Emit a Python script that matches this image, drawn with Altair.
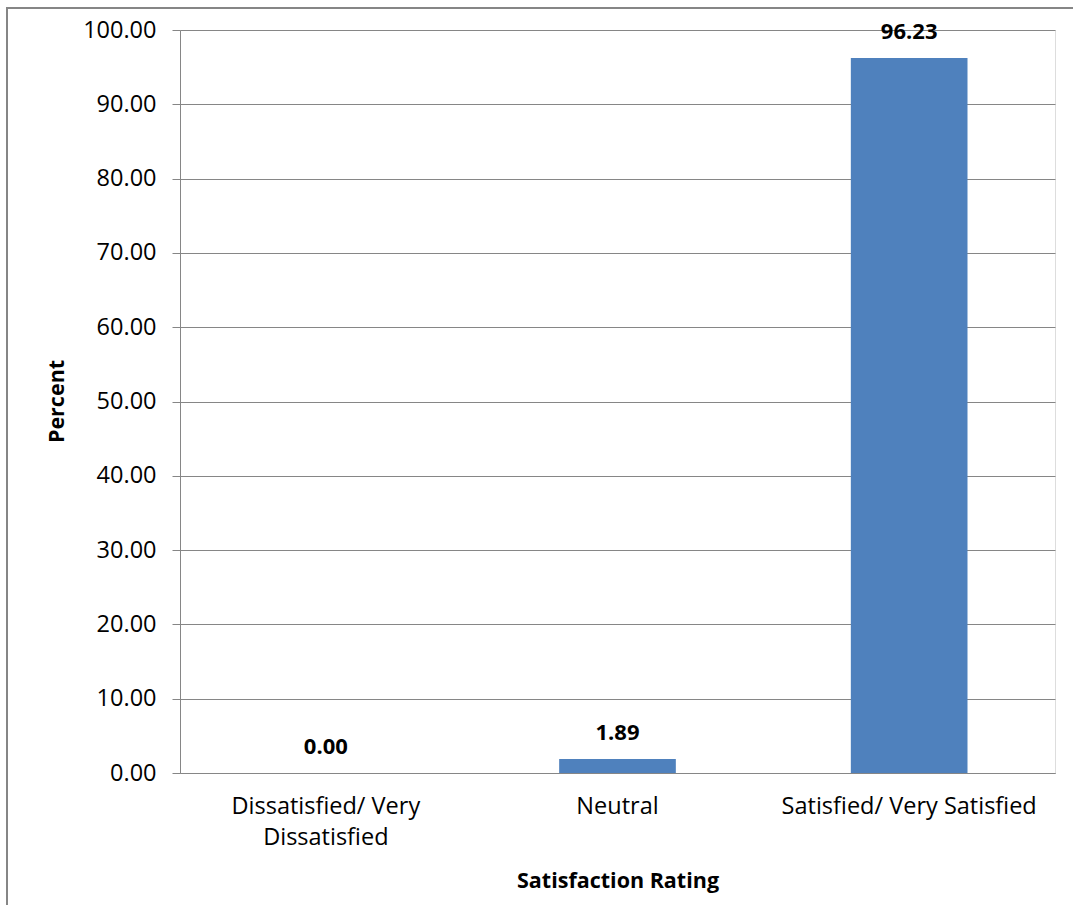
import altair as alt
import pandas as pd

categories = ["Dissatisfied/ Very Dissatisfied", "Neutral", "Satisfied/ Very Satisfied"]
percent = [0.00, 1.89, 96.23]
y_ticks = [0, 10, 20, 30, 40, 50, 60, 70, 80, 90, 100]

df = pd.DataFrame({"cat": categories, "pct": percent})
df["lbl"] = df["pct"].map(lambda v: f"{v:.2f}")

FONT = "Open Sans"
GRAY = "#868686"
FS = 23.5
TFS = 21.5

x_enc = alt.X(
    "cat:N",
    sort=categories,
    title="Satisfaction Rating",
    scale=alt.Scale(paddingInner=0.6, paddingOuter=0.3),
    axis=alt.Axis(
        labelAngle=0,
        labelExpr="datum.label == 'Dissatisfied/ Very Dissatisfied' ? ['Dissatisfied/ Very', 'Dissatisfied'] : datum.label",
        labelFont=FONT,
        labelFontSize=FS,
        labelColor="#000000",
        labelLineHeight=31,
        labelPadding=21,
        labelLimit=400,
        ticks=False,
        domain=True,
        domainColor=GRAY,
        titleFont=FONT,
        titleFontSize=TFS,
        titleFontWeight="bold",
        titleColor="#000000",
        titleY=108,
        titleBaseline="middle",
    ),
)

y_enc = alt.Y(
    "pct:Q",
    title="Percent",
    scale=alt.Scale(domain=[0, 100], nice=False),
    axis=alt.Axis(
        values=y_ticks,
        format=".2f",
        labelFont=FONT,
        labelFontSize=FS,
        labelColor="#000000",
        labelPadding=16,
        tickSize=8,
        tickColor=GRAY,
        domainColor=GRAY,
        gridColor=GRAY,
        grid=True,
        titleFont=FONT,
        titleFontSize=TFS,
        titleFontWeight="bold",
        titleColor="#000000",
        titleX=-123,
        titleY=371,
        titleAngle=-90,
        titleAlign="center",
        titleBaseline="middle",
    ),
)

bars = alt.Chart(df).mark_bar(color="#4F81BD").encode(x=x_enc, y=y_enc)

labels = alt.Chart(df).mark_text(
    font=FONT, fontSize=22, fontWeight="bold", color="#000000", dy=-26, baseline="middle"
).encode(x=alt.X("cat:N", sort=categories), y="pct:Q", text="lbl:N")

border = alt.Chart(df).mark_rect(fill=None, stroke=GRAY, strokeWidth=2).encode(
    x=alt.value(-173), x2=alt.value(1000), y=alt.value(-22), y2=alt.value(1000)
)

chart = (
    alt.layer(border, bars, labels)
    .properties(
        width=875,
        height=743,
        autosize=alt.AutoSizeParams(type="none"),
        padding={"left": 180, "top": 30, "right": 18, "bottom": 132},
    )
    .configure_view(stroke=None)
    .configure(background="white")
)

chart.save("out.html", embed_options={"renderer": "svg", "actions": False})
